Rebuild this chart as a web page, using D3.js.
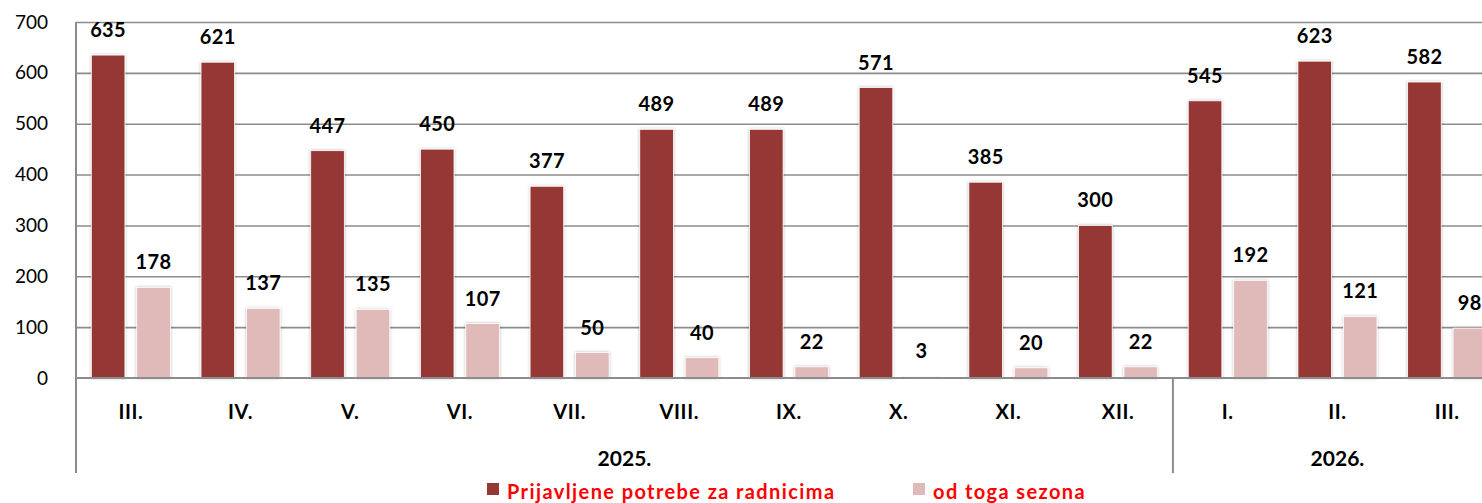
<!DOCTYPE html>
<html>
<head>
<meta charset="utf-8">
<script src="https://cdn.jsdelivr.net/npm/d3@7"></script>
<style>
  html, body { margin: 0; padding: 0; background: #fff; }
  svg { display: block; font-family: Lato, "Open Sans", sans-serif; }
</style>
</head>
<body>
<div id="chart"></div>
<script>
/* data */
var months = ["III.", "IV.", "V.", "VI.", "VII.", "VIII.", "IX.", "X.", "XI.", "XII.", "I.", "II.", "III."];
var years = [{ label: "2025.", count: 10 }, { label: "2026.", count: 3 }];
var prijavljene = [635, 621, 447, 450, 377, 489, 489, 571, 385, 300, 545, 623, 582];
var sezona = [178, 137, 135, 107, 50, 40, 22, 3, 20, 22, 192, 121, 98];
var seriesNames = ["Prijavljene potrebe za radnicima", "od toga sezona"];
var colors = ["#953735", "#E0B9B9"];

var W = 1482, H = 503;
/* window.top is read-only, so plot edges get their own names */
var plotLeft = 76, plotRight = 1502, plotTop = 22, zero = 378;

var svg = d3.select("#chart").append("svg")
  .attr("width", W).attr("height", H);

var defs = svg.append("defs");
var f = defs.append("filter").attr("id", "shadow")
  .attr("x", "-20%").attr("y", "-20%").attr("width", "140%").attr("height", "140%");
f.append("feDropShadow").attr("dx", 0).attr("dy", 0)
  .attr("stdDeviation", 1.6).attr("flood-color", "#000").attr("flood-opacity", 0.28);

var idx = d3.range(months.length);
var x0 = d3.scaleBand().domain(idx).range([plotLeft, plotRight]).padding(0);
var x1 = d3.scaleBand().domain([0, 1]).range([0, x0.bandwidth()])
  .paddingInner(0.26).paddingOuter(0.337);
var y = d3.scaleLinear().domain([0, 700]).range([zero, plotTop]);

/* gridlines */
svg.append("g")
  .attr("transform", "translate(" + plotLeft + ",0)")
  .call(d3.axisLeft(y).tickValues(d3.range(100, 701, 100)).tickSize(-(plotRight - plotLeft)).tickFormat(""))
  .call(function (g) { g.select(".domain").remove(); })
  .selectAll("line").attr("stroke", "#8c8c8c").attr("stroke-width", 1.6);

/* y tick labels */
svg.append("g")
  .attr("transform", "translate(" + 48 + ",0)")
  .call(d3.axisLeft(y).tickValues(d3.range(0, 701, 100)).tickSize(0).tickPadding(0))
  .call(function (g) { g.select(".domain").remove(); })
  .selectAll("text")
    .attr("x", 0)
    .style("font-family", "Lato, sans-serif")
    .style("font-size", "19px")
    .attr("fill", "#000");

/* bars */
var groups = svg.append("g").selectAll("g")
  .data(idx).enter().append("g")
  .attr("transform", function (i) { return "translate(" + x0(i) + ",0)"; });

var series = [prijavljene, sezona];
groups.selectAll("rect")
  .data(function (i) { return [0, 1].map(function (s) { return { s: s, v: series[s][i] }; }); })
  .enter().append("rect")
  .attr("x", function (d) { return x1(d.s); })
  .attr("width", x1.bandwidth())
  .attr("y", function (d) { return y(d.v); })
  .attr("height", function (d) { return zero - y(d.v); })
  .attr("fill", function (d) { return colors[d.s]; })
  .attr("stroke", "#fff").attr("stroke-width", 0.8)
  .attr("filter", "url(#shadow)");

groups.selectAll("text.val")
  .data(function (i) { return [0, 1].map(function (s) { return { s: s, v: series[s][i] }; }); })
  .enter().append("text")
  .attr("class", "val")
  .attr("x", function (d) { return x1(d.s) + x1.bandwidth() / 2; })
  .attr("y", function (d) { return y(d.v) - 18; })
  .attr("text-anchor", "middle")
  .style("font-size", "20px")
  .style("font-weight", "bold")
  .style("letter-spacing", "0.4px")
  .text(function (d) { return d.v; });

/* axes lines */
svg.append("line").attr("x1", plotLeft).attr("x2", plotRight).attr("y1", zero).attr("y2", zero)
  .attr("stroke", "#8c8c8c").attr("stroke-width", 2);
svg.append("line").attr("x1", plotLeft).attr("x2", plotLeft).attr("y1", plotTop).attr("y2", 473)
  .attr("stroke", "#8c8c8c").attr("stroke-width", 2);

/* month labels */
svg.append("g")
  .attr("transform", "translate(0," + zero + ")")
  .call(d3.axisBottom(x0).tickSize(0).tickPadding(0).tickFormat(function (i) { return months[i]; }))
  .call(function (g) { g.select(".domain").remove(); })
  .selectAll("text")
    .attr("y", 41)
    .attr("dy", 0)
    .style("font-family", "Lato, sans-serif")
    .style("font-size", "20px")
    .style("font-weight", "bold")
    .style("letter-spacing", "0.6px")
    .attr("fill", "#000");

/* year labels and separators */
var start = 0;
years.forEach(function (yr) {
  var a = x0(start), b = x0(start + yr.count - 1) + x0.bandwidth();
  svg.append("text")
    .attr("x", (a + b) / 2).attr("y", 466)
    .attr("text-anchor", "middle")
    .style("font-size", "21px").style("font-weight", "bold")
    .text(yr.label);
  if (start + yr.count < months.length) {
    svg.append("line").attr("x1", b).attr("x2", b).attr("y1", zero).attr("y2", 473)
      .attr("stroke", "#8c8c8c").attr("stroke-width", 2);
  }
  start += yr.count;
});

/* legend */
var legX = [487, 913];
var leg = svg.append("g").selectAll("g").data(seriesNames).enter().append("g")
  .attr("transform", function (d, i) { return "translate(" + legX[i] + ",483)"; });
leg.append("rect").attr("width", 12).attr("height", 12)
  .attr("fill", function (d, i) { return colors[i]; });
leg.append("text").attr("x", 20).attr("y", 16)
  .style("font-size", "20px").style("font-weight", "bold")
  .style("letter-spacing", "1.4px")
  .attr("fill", "#ff0000")
  .text(function (d) { return d; });
</script>
</body>
</html>
